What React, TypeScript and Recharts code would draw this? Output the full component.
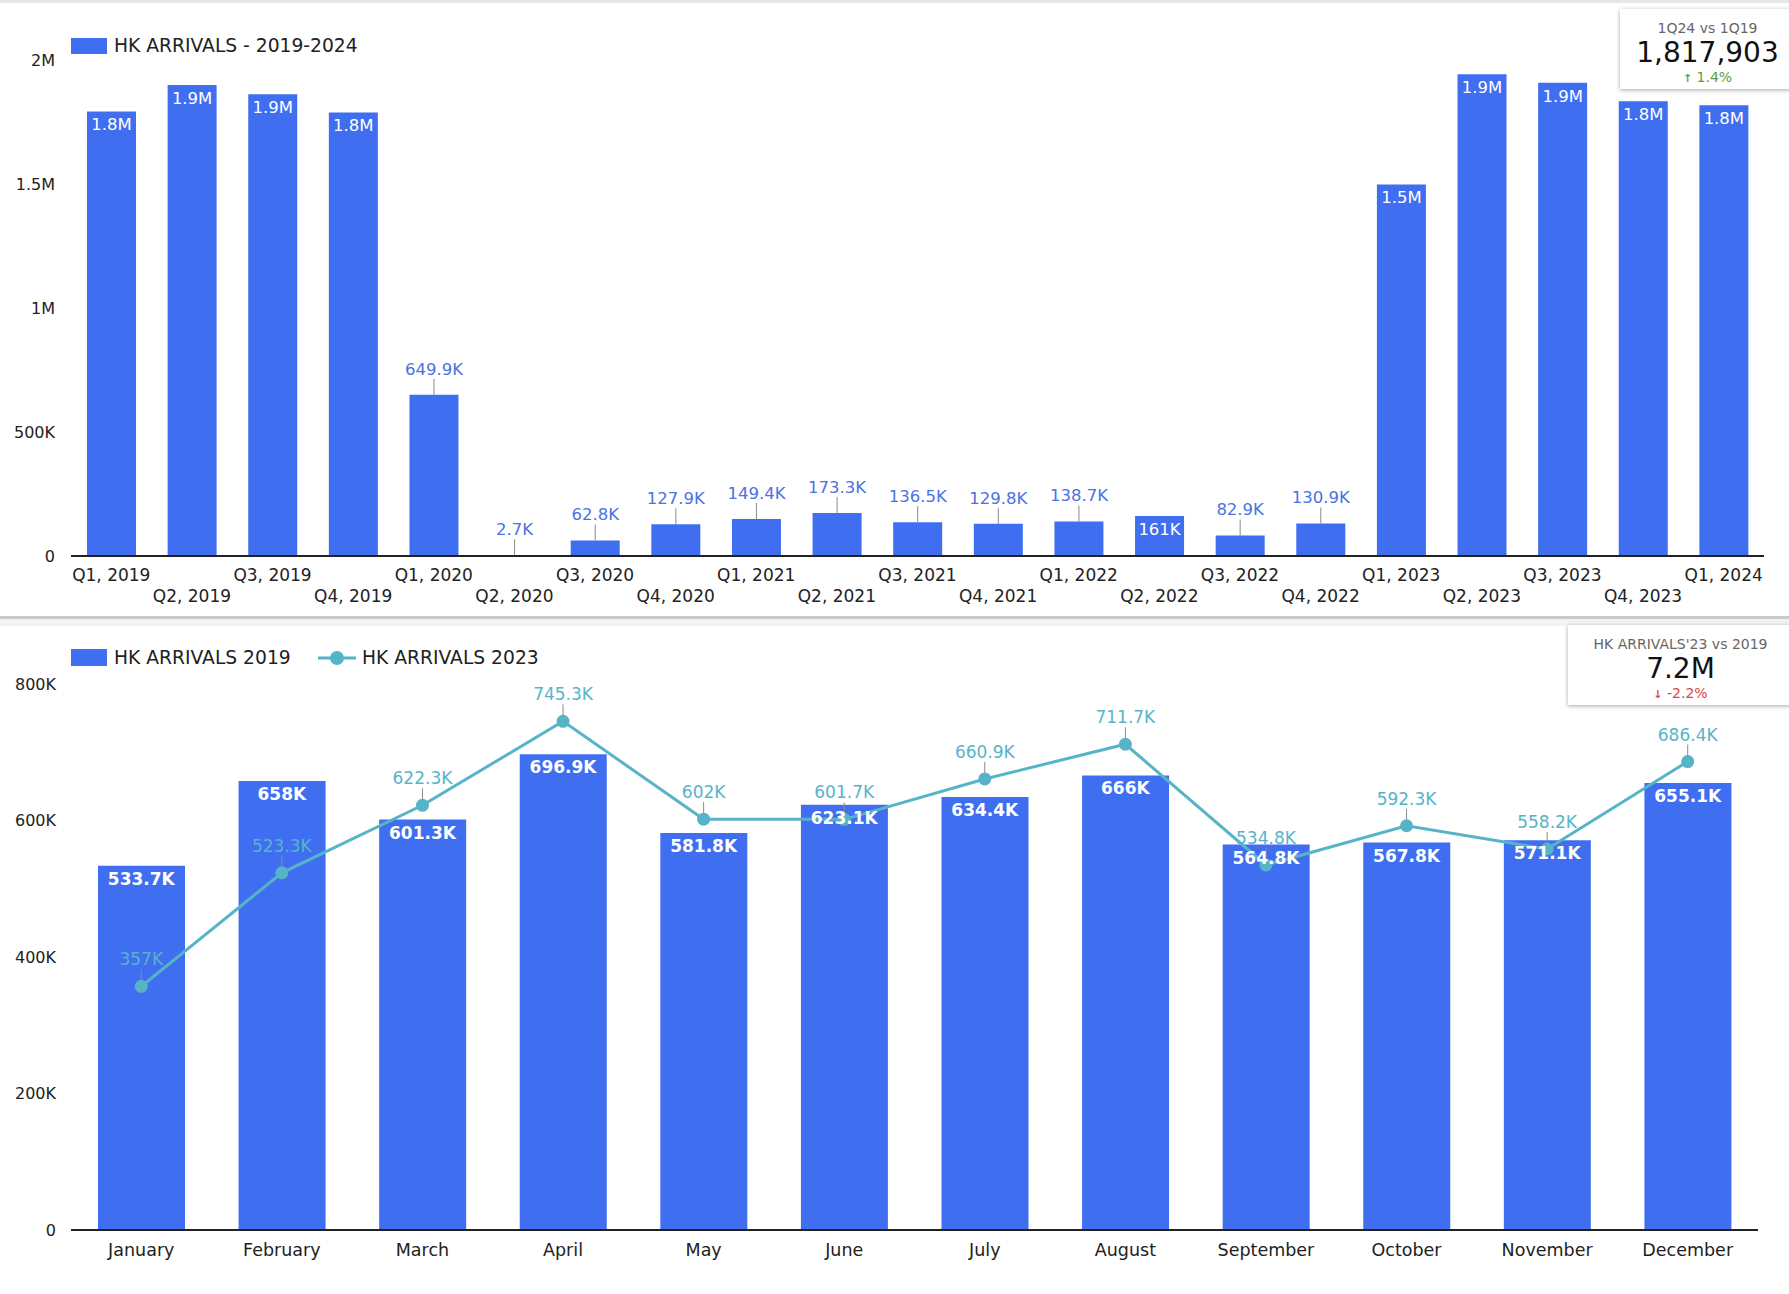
import React from "react";
import {
  BarChart,
  Bar,
  ComposedChart,
  Line,
  XAxis,
  YAxis,
  LabelList,
} from "recharts";

const quarters = [
  "Q1, 2019", "Q2, 2019", "Q3, 2019", "Q4, 2019",
  "Q1, 2020", "Q2, 2020", "Q3, 2020", "Q4, 2020",
  "Q1, 2021", "Q2, 2021", "Q3, 2021", "Q4, 2021",
  "Q1, 2022", "Q2, 2022", "Q3, 2022", "Q4, 2022",
  "Q1, 2023", "Q2, 2023", "Q3, 2023", "Q4, 2023",
  "Q1, 2024",
];
const quarterArrivals = [
  1792800, 1899000, 1862000, 1788000,
  649900, 2700, 62800, 127900,
  149400, 173300, 136500, 129800,
  138700, 161000, 82900, 130900,
  1498000, 1943000, 1908000, 1834000,
  1817903,
];
const topTicks = [0, 500000, 1000000, 1500000, 2000000];

const months = [
  "January", "February", "March", "April", "May", "June",
  "July", "August", "September", "October", "November", "December",
];
const arrivals2019 = [
  533700, 658000, 601300, 696900, 581800, 623100,
  634400, 666000, 564800, 567800, 571100, 655100,
];
const arrivals2023 = [
  357000, 523300, 622300, 745300, 602000, 601700,
  660900, 711700, 534800, 592300, 558200, 686400,
];
const bottomTicks = [0, 200000, 400000, 600000, 800000];

const BLUE = "#3f6ff0";
const TEAL = "#57b4c8";
const FONT = "'DejaVu Sans', Verdana, sans-serif";

const topData = quarters.map((q, i) => ({ q, v: quarterArrivals[i] }));
const monthData = months.map((m, i) => ({
  m,
  a2019: arrivals2019[i],
  a2023: arrivals2023[i],
}));

function fmtAxis(v: number) {
  if (v === 0) return "0";
  if (v >= 1e6) return `${+(v / 1e6).toFixed(1)}M`;
  return `${+(v / 1e3).toFixed(1)}K`;
}

function fmtLabel(v: number) {
  if (v >= 1e6) return `${(v / 1e6).toFixed(1)}M`;
  return `${+(v / 1e3).toFixed(1)}K`;
}

const QuarterTick = (props: any) => {
  const { x, y, payload, index } = props;
  const dy = index % 2 === 0 ? 19 : 40;
  return (
    <text x={x} y={y + dy} dy="0.355em" textAnchor="middle" fontSize={17} fill="#222" fontFamily={FONT}>
      {payload.value}
    </text>
  );
};

const MonthTick = (props: any) => {
  const { x, y, payload } = props;
  return (
    <text x={x} y={y + 20} dy="0.355em" textAnchor="middle" fontSize={17.5} fill="#222" fontFamily={FONT}>
      {payload.value}
    </text>
  );
};

const TopLabel = (props: any) => {
  const { x, y, width, height, value } = props;
  const text = fmtLabel(value);
  const cx = x + width / 2;
  if (text.length <= 4 && height > 28) {
    return (
      <text x={cx} y={y + 13} dy="0.355em" textAnchor="middle" fontSize={16.5} fill="#fff" fontFamily={FONT}>
        {text}
      </text>
    );
  }
  return (
    <g>
      <line x1={cx} x2={cx} y1={y} y2={y - 16} stroke="#8a8a8a" strokeWidth={1} />
      <text x={cx} y={y - 26} dy="0.355em" textAnchor="middle" fontSize={16.5} fill="#4a72e2" fontFamily={FONT}>
        {text}
      </text>
    </g>
  );
};

const LineLabel = (props: any) => {
  const { x, y, value } = props;
  return (
    <g>
      <line x1={x} x2={x} y1={y - 6} y2={y - 17} stroke="#8a8a8a" strokeWidth={1} />
      <text x={x} y={y - 27} dy="0.355em" textAnchor="middle" fontSize={17} fill={TEAL} fontFamily={FONT}>
        {fmtLabel(value)}
      </text>
    </g>
  );
};

const BarTopLabel = (props: any) => {
  const { x, y, value } = props;
  return (
    <text x={x} y={y + 13} dy="0.355em" textAnchor="middle" fontSize={17} fontWeight="bold" fill="#fff" fontFamily={FONT}>
      {fmtLabel(value)}
    </text>
  );
};

function Kpi({ left, top, width, title, value, delta, up }: any) {
  return (
    <div
      style={{
        position: "absolute",
        left,
        top,
        width,
        height: 80,
        background: "#fff",
        boxShadow: "0 1px 4px rgba(0,0,0,0.35)",
        fontFamily: FONT,
        textAlign: "center",
      }}
    >
      <div style={{ position: "absolute", top: 11, width: "100%", fontSize: 14, color: "#666" }}>{title}</div>
      <div style={{ position: "absolute", top: 27, width: "100%", fontSize: 28, color: "#111" }}>{value}</div>
      <div style={{ position: "absolute", top: 60, width: "100%", fontSize: 14, color: up ? "#5e9c45" : "#d9473f" }}>
        <span style={{ fontSize: 11, fontWeight: "bold" }}>{up ? "↑" : "↓"}</span> {delta}
      </div>
    </div>
  );
}

export default function App() {
  return (
    <div style={{ position: "absolute", left: 0, top: 0, width: 1789, height: 1294, background: "#fff", fontFamily: FONT, overflow: "hidden" }}>
      <div style={{ position: "absolute", left: 0, top: 0, width: 1789, height: 3, background: "#e6e6e6" }} />

      <div style={{ position: "absolute", left: 0, top: 0 }}>
        <BarChart width={1789} height={620} data={topData} margin={{ top: 60, right: 25, bottom: 4, left: 0 }}>
          <XAxis
            dataKey="q"
            interval={0}
            tick={<QuarterTick />}
            tickLine={false}
            tickSize={0}
            tickMargin={0}
            axisLine={{ stroke: "#222", strokeWidth: 2 }}
            height={60}
          />
          <YAxis
            domain={[0, 2000000]}
            ticks={topTicks}
            tickFormatter={fmtAxis}
            axisLine={false}
            tickLine={false}
            tickSize={0}
            tickMargin={16}
            width={71}
            tick={{ fontSize: 16, fill: "#222", fontFamily: FONT }}
          />
          <Bar dataKey="v" fill={BLUE} barSize={49} isAnimationActive={false}>
            <LabelList dataKey="v" content={TopLabel} />
          </Bar>
        </BarChart>
      </div>

      <div style={{ position: "absolute", left: 71, top: 38, width: 36, height: 16, background: BLUE }} />
      <div style={{ position: "absolute", left: 114, top: 35, fontSize: 18.7, color: "#222", lineHeight: "22px" }}>
        HK ARRIVALS - 2019-2024
      </div>

      <div style={{ position: "absolute", left: 0, top: 616, width: 1789, height: 3, background: "#c9c9c9" }} />
      <div style={{ position: "absolute", left: 0, top: 619, width: 1789, height: 7, background: "#f3f3f3" }} />

      <div style={{ position: "absolute", left: 0, top: 620 }}>
        <ComposedChart width={1789} height={674} data={monthData} margin={{ top: 64, right: 31, bottom: 0, left: 0 }}>
          <XAxis
            dataKey="m"
            interval={0}
            tick={<MonthTick />}
            tickLine={false}
            tickSize={0}
            tickMargin={0}
            axisLine={{ stroke: "#222", strokeWidth: 2 }}
            height={64}
          />
          <YAxis
            domain={[0, 800000]}
            ticks={bottomTicks}
            tickFormatter={fmtAxis}
            axisLine={false}
            tickLine={false}
            tickSize={0}
            tickMargin={15}
            width={71}
            tick={{ fontSize: 16, fill: "#222", fontFamily: FONT }}
          />
          <Bar dataKey="a2019" fill={BLUE} barSize={87} isAnimationActive={false} />
          <Line
            dataKey="a2023"
            stroke={TEAL}
            strokeWidth={3}
            dot={{ r: 6.5, fill: TEAL, stroke: "none" }}
            activeDot={false}
            isAnimationActive={false}
          >
            <LabelList dataKey="a2023" content={LineLabel} />
          </Line>
          <Line dataKey="a2019" stroke="none" dot={false} activeDot={false} isAnimationActive={false} legendType="none">
            <LabelList dataKey="a2019" content={BarTopLabel} />
          </Line>
        </ComposedChart>
      </div>

      <div style={{ position: "absolute", left: 71, top: 649, width: 36, height: 17, background: BLUE }} />
      <div style={{ position: "absolute", left: 114, top: 647, fontSize: 18.7, color: "#222", lineHeight: "22px" }}>
        HK ARRIVALS 2019
      </div>
      <svg style={{ position: "absolute", left: 318, top: 648 }} width={38} height={20}>
        <line x1={0} x2={38} y1={10} y2={10} stroke={TEAL} strokeWidth={3} />
        <circle cx={19} cy={10} r={7} fill={TEAL} />
      </svg>
      <div style={{ position: "absolute", left: 362, top: 647, fontSize: 18.7, color: "#222", lineHeight: "22px" }}>
        HK ARRIVALS 2023
      </div>

      <Kpi left={1620} top={9} width={175} title="1Q24 vs 1Q19" value="1,817,903" delta="1.4%" up />
      <Kpi left={1568} top={625} width={225} title="HK ARRIVALS'23 vs 2019" value="7.2M" delta="-2.2%" up={false} />
    </div>
  );
}
